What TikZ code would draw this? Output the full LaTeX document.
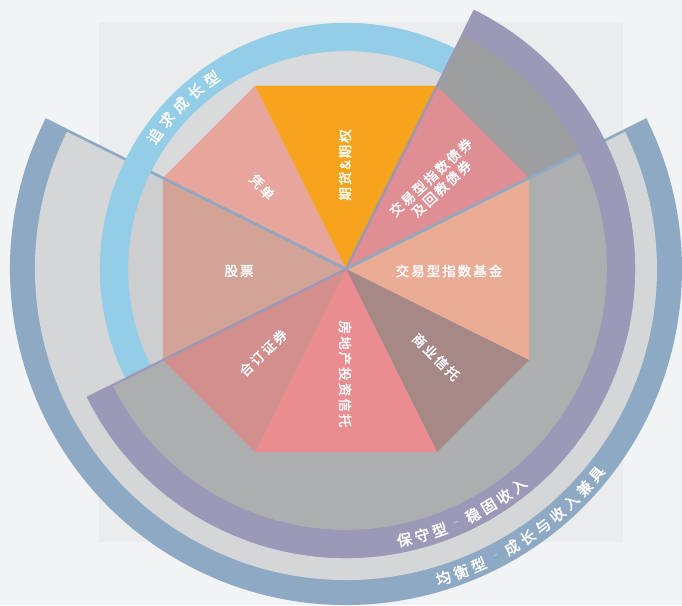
\documentclass[tikz,border=0pt]{standalone}
\usepackage{fontspec}
\newfontfamily\cjk[FakeBold=2]{Noto Sans CJK SC}
\newfontfamily\cjkls[LetterSpace=15,FakeBold=1.8]{Noto Sans CJK SC}
\definecolor{bgout}{HTML}{F2F3F5}
\definecolor{bgin}{HTML}{EBECEE}
\definecolor{steel}{HTML}{8DA9C3}
\definecolor{balgray}{HTML}{D5D6D8}
\definecolor{purp}{HTML}{9A99B7}
\definecolor{consgray}{HTML}{ADAEB0}
\definecolor{consdark}{HTML}{9D9E9F}
\definecolor{skyb}{HTML}{94CDE7}
\definecolor{growgray}{HTML}{D9DADC}
\definecolor{growgrayb}{HTML}{CDCECF}
\definecolor{worange}{HTML}{F6A31E}
\definecolor{wpinka}{HTML}{DF8F94}
\definecolor{wsalmon}{HTML}{EBAC96}
\definecolor{wmauve}{HTML}{A68887}
\definecolor{wpinkb}{HTML}{E98D91}
\definecolor{wrose}{HTML}{D38E8E}
\definecolor{wtan}{HTML}{D3A397}
\definecolor{wpeach}{HTML}{E8A59B}
\definecolor{dashp}{HTML}{C4C3D8}
\definecolor{dashs}{HTML}{B9CADB}
\tikzset{
  wlabel/.style={text=white, font=\cjkls\fontsize{13.5}{15.5}\selectfont, inner sep=0pt, align=center},
  rlabel/.style={text=white, font=\cjk\fontsize{15}{15}\selectfont, inner sep=0pt},
  edgeline/.style={line width=2.6pt},
}
\newcommand{\dashP}{{\color{dashp}\fontsize{9}{9}\selectfont –}}
\newcommand{\dashS}{{\color{dashs}\fontsize{9}{9}\selectfont –}}
\begin{document}
\begin{tikzpicture}[x=1pt,y=1pt]
\useasboundingbox (-346,-336) rectangle (336,269);
\fill[bgout] (-346,-336) rectangle (336,269);
\fill[bgin] (-247,247) rectangle (277,-273);

% balanced sector
\fill[steel] (0,0) -- (153.56:336pt) arc[start angle=153.56, end angle=386.44, radius=336pt] -- cycle;
\fill[balgray] (0,0) -- (153.56:311pt) arc[start angle=153.56, end angle=386.44, radius=311pt] -- cycle;

% conservative sector
\fill[purp] (0,0) -- (206.44:289pt) arc[start angle=206.44, end angle=423.56, radius=289pt] -- cycle;
\fill[consgray] (0,0) -- (206.44:261pt) arc[start angle=206.44, end angle=386.44, radius=261pt] -- cycle;
\fill[consdark] (0,0) -- (26.44:261pt) arc[start angle=26.44, end angle=63.56, radius=261pt] -- cycle;

% growth sector
\fill[skyb] (0,0) -- (63.56:246pt) arc[start angle=63.56, end angle=206.44, radius=246pt] -- cycle;
\fill[growgray] (0,0) -- (63.56:218pt) arc[start angle=63.56, end angle=153.56, radius=218pt] -- cycle;
\fill[growgrayb] (0,0) -- (153.56:218pt) arc[start angle=153.56, end angle=206.44, radius=218pt] -- cycle;

% octagon wedges
\coordinate (O) at (0,0);
\coordinate (V1) at (91,183);
\coordinate (V2) at (183,91);
\coordinate (V3) at (183,-91);
\coordinate (V4) at (91,-183);
\coordinate (V5) at (-91,-183);
\coordinate (V6) at (-183,-91);
\coordinate (V7) at (-183,91);
\coordinate (V8) at (-91,183);
\fill[worange] (O) -- (V8) -- (V1) -- cycle;
\fill[wpinka]  (O) -- (V1) -- (V2) -- cycle;
\fill[wsalmon] (O) -- (V2) -- (V3) -- cycle;
\fill[wmauve]  (O) -- (V3) -- (V4) -- cycle;
\fill[wpinkb]  (O) -- (V4) -- (V5) -- cycle;
\fill[wrose]   (O) -- (V5) -- (V6) -- cycle;
\fill[wtan]    (O) -- (V6) -- (V7) -- cycle;
\fill[wpeach]  (O) -- (V7) -- (V8) -- cycle;

% balanced edge lines
\coordinate (B1) at (153.56:336pt);
\coordinate (B2) at (26.44:336pt);
\draw[steel, edgeline] (O) -- (B1);
\draw[steel, edgeline] (O) -- (B2);

% rings on top
\fill[skyb] (63.56:218pt) arc[start angle=63.56, end angle=206.44, radius=218pt] -- (206.44:246pt) arc[start angle=206.44, end angle=63.56, radius=246pt] -- cycle;
\fill[purp] (206.44:261pt) arc[start angle=206.44, end angle=423.56, radius=261pt] -- (423.56:289pt) arc[start angle=423.56, end angle=206.44, radius=289pt] -- cycle;

% conservative edge lines
\coordinate (C1) at (63.56:289pt);
\coordinate (C2) at (206.44:289pt);
\draw[purp, line width=2.2pt] (O) -- (C1);
\draw[purp, line width=2.2pt] (O) -- (C2);

% wedge labels
\node[wlabel, rotate=90] (qh) at (-1,104) {期货\&期权};
\node[wlabel, rotate=43] (zq) at (90,86) {交易型指数债券\\及回教债券};
\node[wlabel] (jj) at (103,-2) {交易型指数基金};
\node[wlabel, rotate=-45] (sy) at (90,-88) {商业信托};
\node[wlabel, rotate=-90] (fd) at (-1,-105) {房地产投资信托};
\node[wlabel, rotate=44] (hd) at (-83,-84) {合订证券};
\node[wlabel] (gp) at (-107,-2) {股票};
\node[wlabel, rotate=-47] (pd) at (-84,82) {凭单};

% ring labels
\foreach \c [count=\i from 0] in {追,求,成,长,型} {
  \pgfmathsetmacro{\a}{145.2-5*\i}
  \node[rlabel, rotate=\a-90] (g\i) at (\a:233pt) {\c};
}
\foreach \c [count=\i from 0] in {保,守,型,\dashP,稳,固,收,入} {
  \pgfmathsetmacro{\a}{-77.8+3.77*\i}
  \node[rlabel, rotate=\a+90] (k\i) at (\a:277pt) {\c};
}
\foreach \c [count=\i from 0] in {均,衡,型,\dashS,成,长,与,收,入,兼,具} {
  \pgfmathsetmacro{\a}{-72.5+3.32*\i}
  \node[rlabel, rotate=\a+90] (b\i) at (\a:324pt) {\c};
}
\end{tikzpicture}
\end{document}
